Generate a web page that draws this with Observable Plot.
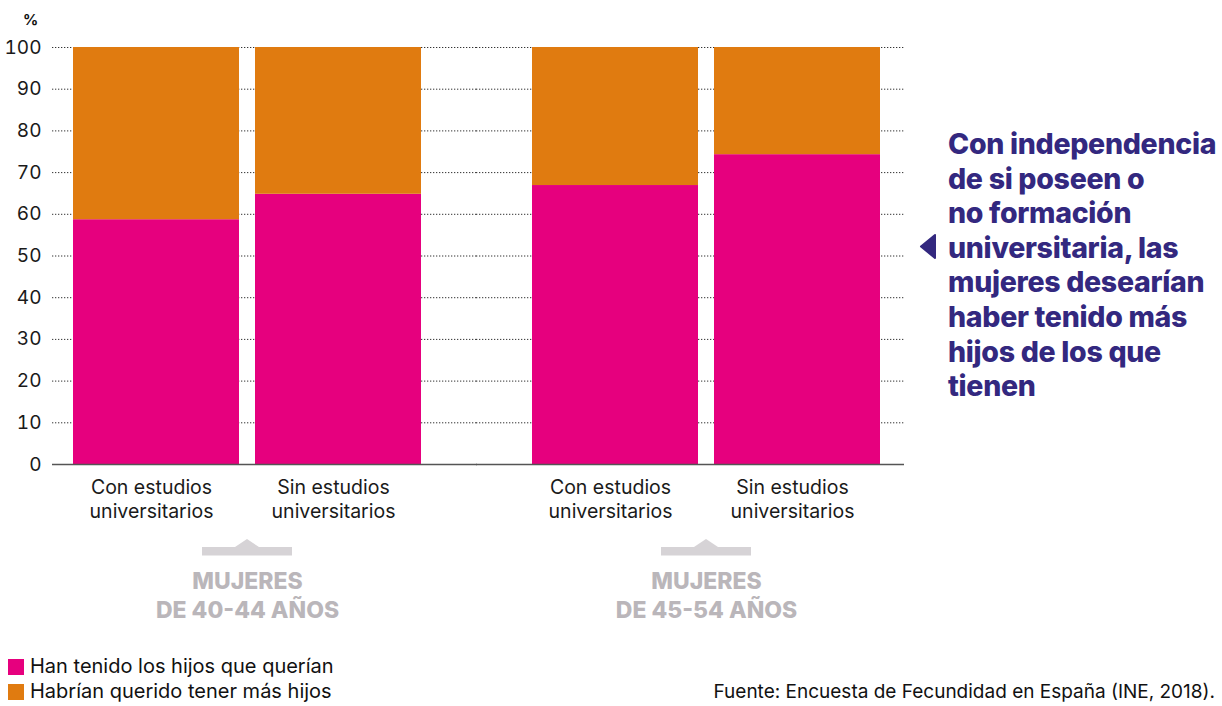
<!DOCTYPE html>
<html>
<head>
<meta charset="utf-8">
<script src="https://cdn.jsdelivr.net/npm/d3@7"></script>
<script src="https://cdn.jsdelivr.net/npm/@observablehq/plot@0.6"></script>
<style>
  html, body { margin: 0; padding: 0; background: #fff; }
  body { width: 1222px; height: 706px; overflow: hidden; font-family: Inter, "Noto Sans", sans-serif; }
  #wrap { position: relative; width: 1222px; height: 706px; }
  #chart { position: absolute; left: 0; top: 0; }
  #pct { position: absolute; left: 23px; top: 10px; font-size: 15px; font-weight: 700; color: #111; }
  #callout { position: absolute; left: 948px; top: 127px; font-size: 28.5px; font-weight: 800; line-height: 34.6px; color: #33287f; white-space: pre; letter-spacing: -0.3px; }
  #arrow { position: absolute; left: 918px; top: 232px; }
  #legend { position: absolute; left: 8px; top: 654px; font-size: 20px; color: #111; line-height: 25px; }
  #legend .row { display: flex; align-items: center; }
  #legend .sw { width: 16px; height: 16px; margin-right: 6px; }
  #source { position: absolute; right: 7px; top: 681px; font-size: 19px; line-height: 22px; color: #111; }
</style>
</head>
<body>
<div id="wrap">
  <div id="chart"></div>
  <div id="pct">%</div>
  <svg id="arrow" width="20" height="30"><path d="M3,14.5 L17,3 L17,26 Z" fill="#33287f" stroke="#33287f" stroke-width="2" stroke-linejoin="round"/></svg>
  <div id="callout"></div>
  <div id="legend"></div>
  <div id="source"></div>
</div>
<script>
// ---- data ----
const groups = ["MUJERES\nDE 40-44 AÑOS", "MUJERES\nDE 45-54 AÑOS"];
const eduLevels = ["Con estudios\nuniversitarios", "Sin estudios\nuniversitarios"];
const series = ["Han tenido los hijos que querían", "Habrían querido tener más hijos"];
// order: [40-44 con, 40-44 sin, 45-54 con, 45-54 sin]
const hanTenido = [58.7, 64.8, 66.9, 74.3];
const habrian = [41.3, 35.2, 33.1, 25.7];
const seriesColors = ["#e6007e", "#e07b10"];
const gridTicks = [10, 20, 30, 40, 50, 60, 70, 80, 90, 100];
const yTicks = [0, 10, 20, 30, 40, 50, 60, 70, 80, 90, 100];
const calloutText = "Con independencia\nde si poseen o\nno formación\nuniversitaria, las\nmujeres desearían\nhaber tenido más\nhijos de los que\ntienen";
const sourceText = "Fuente: Encuesta de Fecundidad en España (INE, 2018).";

// ---- table ----
const rows = [];
groups.forEach((g, gi) => eduLevels.forEach((e, ei) => {
  const i = gi * 2 + ei;
  rows.push({group: g, edu: e, serie: series[0], value: hanTenido[i]});
  rows.push({group: g, edu: e, serie: series[1], value: habrian[i]});
}));
const gridRows = g => gridTicks.map(t => ({group: g, t}));
const baseRows = g => [{group: g, t: 0}];

const plot = Plot.plot({
  width: 1222,
  height: 640,
  marginTop: 47,
  marginBottom: 176,
  marginLeft: 73,
  marginRight: 342,
  style: {fontFamily: "Inter, 'Noto Sans', sans-serif", fontSize: "19px", color: "#1a1a1a", background: "transparent"},
  fx: {domain: groups, paddingInner: 0.242, paddingOuter: 0, axis: null},
  x: {domain: eduLevels, paddingInner: 0.088, paddingOuter: 0},
  y: {domain: [0, 100]},
  color: {domain: series, range: seriesColors},
  marks: [
    Plot.ruleY(gridRows(groups[0]), {fx: "group", y: "t", stroke: "#333", strokeDasharray: "1.3,1.7", insetLeft: -21, insetRight: -56}),
    Plot.ruleY(gridRows(groups[1]), {fx: "group", y: "t", stroke: "#333", strokeDasharray: "1.3,1.7", insetLeft: -56, insetRight: -24}),
    Plot.barY(rows, {fx: "group", x: "edu", y: "value", fill: "serie"}),
    Plot.ruleY(baseRows(groups[0]), {fx: "group", y: "t", stroke: "#555", strokeWidth: 1.5, insetLeft: -21, insetRight: -56}),
    Plot.ruleY(baseRows(groups[1]), {fx: "group", y: "t", stroke: "#555", strokeWidth: 1.5, insetLeft: -56, insetRight: -24}),
    Plot.axisX({tickSize: 0, tickPadding: 13, label: null, fontSize: 19.5, lineHeight: 1.2, dx: -5, fill: "#1a1a1a"}),
    Plot.axisY(yTicks, {tickSize: 0, tickPadding: 32, label: null, fontSize: 19, fill: "#1a1a1a"}),
    Plot.text(groups, {fx: d => d, text: d => d, frameAnchor: "bottom", lineAnchor: "top", dy: 104, fontSize: 23, fontWeight: 800, fill: "#bab6ba", lineHeight: 1.26})
  ]
});
document.getElementById("chart").appendChild(plot);

// decorative pointer bars above the group labels, placed with the fx scale
const fx = plot.scale("fx");
const svg = d3.select(plot);
groups.forEach(g => {
  const cx = fx.apply(g) + fx.bandwidth / 2;
  svg.append("path")
    .attr("d", `M${cx - 45},547 L${cx - 12},547 L${cx},539 L${cx + 12},547 L${cx + 45},547 L${cx + 45},555.5 L${cx - 45},555.5 Z`)
    .attr("fill", "#d6d3d6");
});

// callout, legend, source
document.getElementById("callout").textContent = calloutText;
document.getElementById("source").textContent = sourceText;
const legend = document.getElementById("legend");
series.forEach((s, i) => {
  const row = document.createElement("div");
  row.className = "row";
  const sw = document.createElement("div");
  sw.className = "sw";
  sw.style.background = seriesColors[i];
  const label = document.createElement("span");
  label.textContent = s;
  row.appendChild(sw);
  row.appendChild(label);
  legend.appendChild(row);
});
</script>
</body>
</html>
